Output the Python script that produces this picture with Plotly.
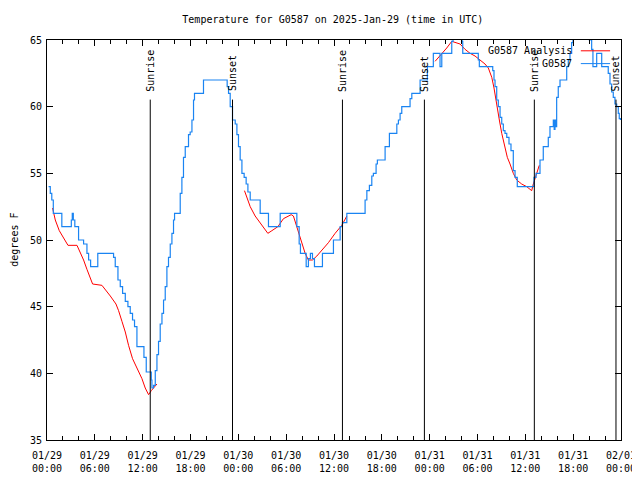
import pandas as pd
import plotly.graph_objects as go

# ---- data (hours since 2025-01-29 00:00 UTC, temperatures in F) ----
obs_hours = [0.20, 0.41, 0.60, 0.79, 1.86, 3.05, 3.17, 3.30, 3.49, 3.96, 4.59, 5.01, 5.22, 5.47,
             6.37, 8.35, 8.56, 8.90, 9.19, 9.48, 9.82, 10.15, 10.44, 10.73, 10.98, 11.28, 12.16,
             12.45, 13.08, 13.16, 13.36, 13.58, 13.79, 13.99, 14.20, 14.42, 14.62, 14.83, 15.04,
             15.24, 15.46, 15.67, 15.87, 16.00, 16.71, 16.92, 17.12, 17.34, 17.75, 17.96, 18.18,
             18.38, 18.50, 19.63, 22.60, 22.77, 22.98, 23.27, 23.61, 23.82, 24.02, 24.23, 24.45,
             24.73, 24.98, 25.20, 25.49, 26.74, 27.78, 29.25, 31.34, 31.63, 31.79, 32.51, 32.79,
             33.04, 33.30, 33.55, 34.55, 35.93, 36.77, 37.06, 37.61, 39.90, 40.12, 40.44, 40.74,
             40.94, 41.28, 41.44, 42.41, 42.95, 43.88, 44.08, 44.29, 44.50, 45.54, 45.76, 46.80,
             47.71, 48.46, 49.30, 49.52, 50.77, 50.93, 52.06, 52.15, 54.10, 54.23, 55.91, 56.07,
             56.20, 56.41, 56.61, 56.83, 57.04, 57.24, 57.45, 57.67, 57.95, 58.20, 58.49, 58.71,
             58.99, 61.09, 61.34, 61.84, 62.25, 62.88, 63.09, 63.51, 63.62, 63.72, 63.82, 63.93,
             64.13, 64.35, 65.19, 65.39, 65.60, 65.81, 65.98, 68.02, 68.32, 68.48, 68.95, 69.58,
             70.40, 70.62, 70.83, 71.03, 71.24, 71.46, 71.66, 71.78, 71.93]
obs_temps = [54.0, 53.5, 53.0, 52.0, 51.0, 51.5, 52.0, 51.5, 51.0, 50.0, 49.7, 49.0, 48.5, 48.0,
             49.0, 48.7, 48.0, 47.0, 46.5, 46.0, 45.4, 45.0, 44.5, 44.0, 43.5, 42.0, 41.2,
             40.1, 39.5, 38.9, 39.1, 40.2, 41.4, 42.4, 43.7, 44.5, 45.5, 46.5, 48.0,
             48.7, 49.7, 50.5, 51.5, 52.0, 53.5, 54.7, 56.2, 57.0, 57.9, 58.1, 59.0,
             60.5, 61.0, 62.0, 61.5, 61.0, 60.0, 59.0, 58.7, 57.9, 57.0, 56.0, 55.0,
             54.7, 54.2, 53.6, 53.0, 52.0, 51.0, 52.0, 51.0, 49.7, 49.0, 48.0, 48.6,
             49.0, 48.6, 48.0, 49.0, 50.0, 51.0, 51.3, 52.0, 53.0, 53.7, 54.1, 54.8,
             55.0, 55.7, 56.0, 57.0, 58.0, 58.7, 59.0, 59.5, 60.0, 60.6, 61.0, 62.0,
             63.0, 64.0, 63.0, 64.0, 64.9, 66.0, 64.9, 64.0, 63.5, 63.0, 62.7, 62.0,
             61.5, 60.5, 60.0, 59.2, 58.7, 58.2, 58.0, 57.7, 57.2, 56.7, 55.2, 54.7,
             54.0, 54.7, 55.0, 56.0, 57.0, 57.7, 58.5, 59.0, 58.3, 59.0, 58.5, 60.7,
             61.5, 62.0, 63.0, 63.5, 64.0, 64.8, 66.0, 65.0, 64.3, 63.0, 64.0, 63.0,
             62.5, 61.7, 61.1, 60.7, 60.2, 60.0, 59.5, 59.1, 59.0]

ana1_hours = [0.70, 1.04, 1.54, 2.08, 2.63, 3.76, 4.17, 4.59, 5.01, 5.43, 5.72, 6.89, 7.31, 7.94,
              8.65, 8.98, 9.40, 9.82, 10.23, 10.73, 11.28, 11.91, 12.32, 12.74, 13.08, 13.79]
ana1_temps = [52.4, 51.5, 50.7, 50.1, 49.6, 49.6, 49.1, 48.5, 47.8, 47.2, 46.7, 46.6, 46.3, 45.8,
              45.2, 44.7, 43.9, 43.1, 42.1, 41.1, 40.4, 39.6, 38.9, 38.4, 38.7, 39.2]
ana2_hours = [24.77, 25.07, 25.49, 26.11, 26.95, 27.70, 28.21, 28.96, 29.66, 30.63, 30.91, 31.21,
              31.54, 31.97, 32.38, 32.79, 33.30, 33.85, 34.47, 35.30, 36.14, 36.98, 37.61]
ana2_temps = [53.7, 53.2, 52.5, 51.8, 51.1, 50.5, 50.7, 51.0, 51.6, 51.9, 51.8, 51.2,
              50.6, 49.7, 49.0, 48.5, 48.5, 48.8, 49.2, 49.8, 50.5, 51.1, 51.8]
ana3_hours = [48.68, 49.30, 50.14, 50.77, 51.40, 51.81, 52.44, 53.07, 53.69, 54.32, 54.94, 55.36,
              55.79, 56.07, 56.41, 56.74, 57.04, 57.45, 57.74, 58.08, 58.49, 58.92, 59.54, 60.17,
              60.80, 61.00, 61.43, 61.75]
ana3_temps = [63.4, 63.8, 64.4, 64.9, 64.8, 64.7, 64.3, 64.0, 63.8, 63.5, 63.2, 62.9,
              62.2, 61.4, 60.0, 59.0, 58.0, 57.0, 56.2, 55.7, 55.0, 54.5, 54.2, 54.0,
              53.7, 54.2, 55.0, 55.6]

event_hours = [12.95, 23.27, 37.06, 47.34, 61.13, 71.37]
event_labels = ["Sunrise", "Sunset", "Sunrise", "Sunset", "Sunrise", "Sunset"]

y_ticks = [35, 40, 45, 50, 55, 60, 65]
x_tick_hours = [0, 6, 12, 18, 24, 30, 36, 42, 48, 54, 60, 66, 72]

BASE = pd.Timestamp("2025-01-29 00:00")
def t(hours):
    return [BASE + pd.Timedelta(hours=h) for h in hours]

FONT = "DejaVu Sans Mono"
FS = 10
RED = "#ff0000"
BLUE = "#1a84f2"

fig = go.Figure()
ax = t(ana1_hours) + [None] + t(ana2_hours) + [None] + t(ana3_hours)
ay = ana1_temps + [None] + ana2_temps + [None] + ana3_temps
fig.add_trace(go.Scatter(x=ax, y=ay, mode="lines", name="G0587 Analysis",
                         line=dict(color=RED, width=1), connectgaps=False))
fig.add_trace(go.Scatter(x=t(obs_hours), y=obs_temps, mode="lines", name="G0587",
                         line=dict(color=BLUE, width=1.2, shape="hv")))

shapes = []
annotations = []
for h, lab in zip(event_hours, event_labels):
    tt = BASE + pd.Timedelta(hours=h)
    shapes.append(dict(type="line", xref="x", yref="paper", x0=tt, x1=tt, y0=0, y1=0.851,
                       line=dict(color="black", width=1)))
    annotations.append(dict(x=tt, y=0.866, xref="x", yref="paper", text=lab, textangle=-90,
                            showarrow=False, xanchor="center", yanchor="bottom",
                            font=dict(family=FONT, size=FS, color="black")))

for yp, name, col in [(0.973, "G0587 Analysis", RED), (0.941, "G0587", BLUE)]:
    annotations.append(dict(x=0.918, y=yp, xref="paper", yref="paper", text=name,
                            showarrow=False, xanchor="right", yanchor="middle",
                            font=dict(family=FONT, size=FS, color="black")))
    shapes.append(dict(type="line", xref="paper", yref="paper", x0=0.930, x1=0.981,
                       y0=yp, y1=yp, line=dict(color=col, width=1)))

annotations.append(dict(x=-0.058, y=0.5, xref="paper", yref="paper", text="degrees F",
                        textangle=-90, showarrow=False, xanchor="center", yanchor="middle",
                        font=dict(family=FONT, size=FS, color="black")))

xt = t(x_tick_hours)
xtext = [(BASE + pd.Timedelta(hours=h)).strftime("%m/%d<br>%H:%M") for h in x_tick_hours]
minor_vals = t(list(range(0, 73, 2)))

fig.update_layout(
    width=632, height=472,
    margin=dict(l=39, r=19, t=32, b=40, pad=0, autoexpand=False),
    paper_bgcolor="white", plot_bgcolor="white",
    showlegend=False,
    title=dict(text="Temperature for G0587 on 2025-Jan-29 (time in UTC)", x=0.514, xanchor="center",
               y=0.975, yanchor="middle", font=dict(family=FONT, size=FS, color="black")),
    font=dict(family=FONT, size=FS, color="black"),
    shapes=shapes, annotations=annotations,
)
fig.update_xaxes(
    type="date", range=[BASE, BASE + pd.Timedelta(hours=72)], automargin=False,
    tickmode="array", tickvals=xt, ticktext=xtext, ticklabelstandoff=6,
    ticks="inside", ticklen=6, tickcolor="black", showgrid=False, zeroline=False,
    showline=True, linecolor="black", linewidth=1, mirror="ticks",
    minor=dict(tickmode="array", tickvals=minor_vals, ticks="inside", ticklen=4, tickcolor="black"),
    tickfont=dict(family=FONT, size=FS, color="black"),
)
fig.update_yaxes(
    range=[35, 65], tickmode="array", tickvals=y_ticks, automargin=False, ticklabelstandoff=2,
    ticks="inside", ticklen=6, tickcolor="black", showgrid=False, zeroline=False,
    showline=True, linecolor="black", linewidth=1, mirror="ticks",
    tickfont=dict(family=FONT, size=FS, color="black"),
)

fig.write_html("out.html")
